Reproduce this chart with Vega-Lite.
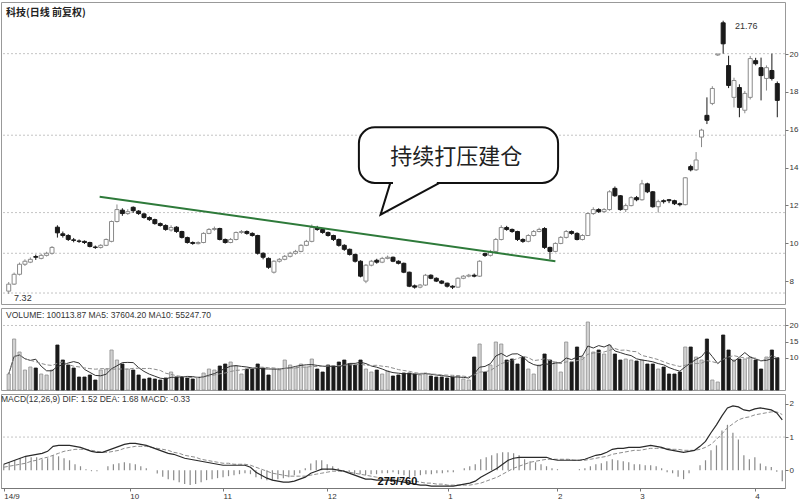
{
"$schema":"https://vega.github.io/schema/vega-lite/v6.json",
"padding":{"left":0,"top":1,"right":0,"bottom":0},
"background":"white",
"spacing":2,
"config":{"view":{"stroke":"#999","strokeWidth":1},"font":"Liberation Sans","axis":{"labelFont":"Liberation Sans","labelColor":"#333","tickColor":"#777","domainColor":"#777"}},
"datasets":{
"k":[
{"n":0,"o":7.47,"h":7.95,"l":7.32,"c":7.84,"v":49600,"dif":0.18,"dea":0.09,"m":0.18},
{"n":1,"o":7.84,"h":8.45,"l":7.80,"c":8.36,"v":158100,"dif":0.24,"dea":0.12,"m":0.24},
{"n":2,"o":8.36,"h":8.98,"l":8.30,"c":8.89,"v":117800,"dif":0.30,"dea":0.15,"m":0.30},
{"n":3,"o":8.89,"h":9.15,"l":8.80,"c":9.05,"v":62000,"dif":0.36,"dea":0.18,"m":0.36},
{"n":4,"o":9.00,"h":9.25,"l":8.95,"c":9.15,"v":71300,"dif":0.42,"dea":0.21,"m":0.42},
{"n":5,"o":9.30,"h":9.40,"l":9.12,"c":9.26,"v":68200,"dif":0.45,"dea":0.27,"m":0.39},
{"n":6,"o":9.20,"h":9.45,"l":9.15,"c":9.36,"v":49600,"dif":0.48,"dea":0.30,"m":0.39},
{"n":7,"o":9.36,"h":9.55,"l":9.30,"c":9.47,"v":46500,"dif":0.51,"dea":0.36,"m":0.33},
{"n":8,"o":9.47,"h":9.85,"l":9.40,"c":9.78,"v":62000,"dif":0.57,"dea":0.39,"m":0.36},
{"n":9,"o":10.85,"h":10.95,"l":10.30,"c":10.55,"v":139500,"dif":0.72,"dea":0.45,"m":0.45},
{"n":10,"o":10.50,"h":10.62,"l":10.30,"c":10.41,"v":93000,"dif":0.75,"dea":0.51,"m":0.42},
{"n":11,"o":10.41,"h":10.48,"l":10.12,"c":10.20,"v":77500,"dif":0.75,"dea":0.57,"m":0.36},
{"n":12,"o":10.18,"h":10.28,"l":10.05,"c":10.15,"v":68200,"dif":0.75,"dea":0.60,"m":0.30},
{"n":13,"o":10.12,"h":10.20,"l":10.02,"c":10.10,"v":40300,"dif":0.72,"dea":0.63,"m":0.18},
{"n":14,"o":10.10,"h":10.15,"l":9.96,"c":10.04,"v":40300,"dif":0.69,"dea":0.63,"m":0.12},
{"n":15,"o":10.04,"h":10.08,"l":9.78,"c":9.83,"v":46500,"dif":0.63,"dea":0.63,"m":0.03},
{"n":16,"o":9.80,"h":9.88,"l":9.70,"c":9.78,"v":31000,"dif":0.57,"dea":0.60,"m":-0.03},
{"n":17,"o":9.78,"h":9.95,"l":9.72,"c":9.89,"v":62000,"dif":0.54,"dea":0.57,"m":-0.03},
{"n":18,"o":9.89,"h":10.25,"l":9.85,"c":10.20,"v":65100,"dif":0.54,"dea":0.54,"m":0.00},
{"n":19,"o":10.10,"h":11.20,"l":10.05,"c":11.15,"v":124000,"dif":0.60,"dea":0.54,"m":0.12},
{"n":20,"o":11.15,"h":12.05,"l":11.10,"c":11.78,"v":93000,"dif":0.66,"dea":0.57,"m":0.18},
{"n":21,"o":11.75,"h":11.85,"l":11.45,"c":11.57,"v":80600,"dif":0.72,"dea":0.60,"m":0.21},
{"n":22,"o":11.57,"h":11.80,"l":11.50,"c":11.67,"v":65100,"dif":0.78,"dea":0.66,"m":0.24},
{"n":23,"o":11.90,"h":11.95,"l":11.60,"c":11.72,"v":62000,"dif":0.81,"dea":0.69,"m":0.21},
{"n":24,"o":11.70,"h":11.75,"l":11.50,"c":11.57,"v":46500,"dif":0.81,"dea":0.72,"m":0.18},
{"n":25,"o":11.55,"h":11.60,"l":11.30,"c":11.36,"v":34100,"dif":0.78,"dea":0.72,"m":0.12},
{"n":26,"o":11.36,"h":11.42,"l":11.18,"c":11.25,"v":37200,"dif":0.75,"dea":0.72,"m":0.06},
{"n":27,"o":11.25,"h":11.30,"l":10.98,"c":11.04,"v":34100,"dif":0.69,"dea":0.69,"m":0.00},
{"n":28,"o":11.04,"h":11.10,"l":10.88,"c":10.94,"v":31000,"dif":0.63,"dea":0.66,"m":-0.10},
{"n":29,"o":10.94,"h":11.00,"l":10.66,"c":10.73,"v":37200,"dif":0.57,"dea":0.63,"m":-0.20},
{"n":30,"o":10.70,"h":10.95,"l":10.62,"c":10.83,"v":55800,"dif":0.51,"dea":0.60,"m":-0.27},
{"n":31,"o":10.85,"h":10.90,"l":10.55,"c":10.62,"v":40300,"dif":0.48,"dea":0.54,"m":-0.30},
{"n":32,"o":10.62,"h":10.66,"l":10.25,"c":10.31,"v":40300,"dif":0.42,"dea":0.51,"m":-0.36},
{"n":33,"o":10.30,"h":10.35,"l":9.98,"c":10.04,"v":37200,"dif":0.36,"dea":0.45,"m":-0.42},
{"n":34,"o":10.04,"h":10.10,"l":9.92,"c":9.99,"v":34100,"dif":0.33,"dea":0.42,"m":-0.45},
{"n":35,"o":9.98,"h":10.10,"l":9.94,"c":10.04,"v":40300,"dif":0.30,"dea":0.39,"m":-0.42},
{"n":36,"o":10.04,"h":10.58,"l":10.00,"c":10.52,"v":52700,"dif":0.27,"dea":0.33,"m":-0.36},
{"n":37,"o":10.52,"h":10.80,"l":10.48,"c":10.73,"v":65100,"dif":0.24,"dea":0.30,"m":-0.30},
{"n":38,"o":10.73,"h":10.88,"l":10.66,"c":10.78,"v":62000,"dif":0.21,"dea":0.27,"m":-0.27},
{"n":39,"o":10.78,"h":10.82,"l":10.15,"c":10.20,"v":74400,"dif":0.18,"dea":0.24,"m":-0.24},
{"n":40,"o":10.20,"h":10.25,"l":9.98,"c":10.04,"v":80600,"dif":0.15,"dea":0.21,"m":-0.21},
{"n":41,"o":10.04,"h":10.28,"l":10.00,"c":10.20,"v":86800,"dif":0.15,"dea":0.21,"m":-0.18},
{"n":42,"o":10.20,"h":10.62,"l":10.15,"c":10.57,"v":74400,"dif":0.15,"dea":0.18,"m":-0.15},
{"n":43,"o":10.57,"h":10.70,"l":10.50,"c":10.62,"v":49600,"dif":0.15,"dea":0.18,"m":-0.12},
{"n":44,"o":10.62,"h":10.68,"l":10.45,"c":10.52,"v":65100,"dif":0.15,"dea":0.18,"m":-0.09},
{"n":45,"o":10.52,"h":10.58,"l":10.35,"c":10.41,"v":65100,"dif":0.09,"dea":0.15,"m":-0.12},
{"n":46,"o":10.41,"h":10.45,"l":9.40,"c":9.47,"v":80600,"dif":-0.06,"dea":0.09,"m":-0.21},
{"n":47,"o":9.47,"h":9.52,"l":9.15,"c":9.26,"v":68200,"dif":-0.15,"dea":0.03,"m":-0.27},
{"n":48,"o":9.20,"h":9.25,"l":8.65,"c":8.73,"v":46500,"dif":-0.24,"dea":-0.03,"m":-0.30},
{"n":49,"o":8.47,"h":9.10,"l":8.40,"c":9.05,"v":65100,"dif":-0.30,"dea":-0.09,"m":-0.30},
{"n":50,"o":9.05,"h":9.22,"l":8.98,"c":9.15,"v":62000,"dif":-0.33,"dea":-0.12,"m":-0.27},
{"n":51,"o":9.15,"h":9.38,"l":9.10,"c":9.31,"v":93000,"dif":-0.36,"dea":-0.15,"m":-0.24},
{"n":52,"o":9.31,"h":9.55,"l":9.25,"c":9.47,"v":77500,"dif":-0.36,"dea":-0.18,"m":-0.21},
{"n":53,"o":9.47,"h":9.65,"l":9.40,"c":9.57,"v":68200,"dif":-0.33,"dea":-0.18,"m":-0.15},
{"n":54,"o":9.57,"h":9.95,"l":9.52,"c":9.89,"v":80600,"dif":-0.27,"dea":-0.18,"m":-0.09},
{"n":55,"o":9.89,"h":10.18,"l":9.85,"c":10.10,"v":71300,"dif":-0.21,"dea":-0.18,"m":0.06},
{"n":56,"o":10.10,"h":10.99,"l":10.05,"c":10.83,"v":96100,"dif":-0.09,"dea":-0.15,"m":0.20},
{"n":57,"o":10.83,"h":10.92,"l":10.66,"c":10.73,"v":65100,"dif":-0.03,"dea":-0.12,"m":0.30},
{"n":58,"o":10.73,"h":10.78,"l":10.50,"c":10.57,"v":55800,"dif":0.03,"dea":-0.09,"m":0.30},
{"n":59,"o":10.57,"h":10.62,"l":10.35,"c":10.41,"v":77500,"dif":0.03,"dea":-0.06,"m":0.18},
{"n":60,"o":10.41,"h":10.45,"l":10.12,"c":10.20,"v":74400,"dif":0.03,"dea":-0.03,"m":0.12},
{"n":61,"o":10.20,"h":10.25,"l":9.82,"c":9.89,"v":86800,"dif":0.00,"dea":-0.03,"m":0.06},
{"n":62,"o":9.89,"h":9.95,"l":9.60,"c":9.68,"v":93000,"dif":-0.03,"dea":-0.03,"m":-0.03},
{"n":63,"o":9.68,"h":9.72,"l":9.35,"c":9.41,"v":80600,"dif":-0.09,"dea":-0.06,"m":-0.06},
{"n":64,"o":9.41,"h":9.45,"l":8.98,"c":9.05,"v":77500,"dif":-0.15,"dea":-0.09,"m":-0.12},
{"n":65,"o":9.05,"h":9.10,"l":8.20,"c":8.26,"v":93000,"dif":-0.21,"dea":-0.12,"m":-0.12},
{"n":66,"o":8.00,"h":8.90,"l":7.89,"c":8.84,"v":65100,"dif":-0.27,"dea":-0.15,"m":-0.15},
{"n":67,"o":8.84,"h":9.12,"l":8.78,"c":9.05,"v":55800,"dif":-0.27,"dea":-0.18,"m":-0.12},
{"n":68,"o":9.10,"h":9.18,"l":8.92,"c":9.00,"v":62000,"dif":-0.30,"dea":-0.21,"m":-0.12},
{"n":69,"o":9.00,"h":9.28,"l":8.95,"c":9.20,"v":49600,"dif":-0.30,"dea":-0.24,"m":-0.09},
{"n":70,"o":9.20,"h":9.35,"l":9.15,"c":9.26,"v":58900,"dif":-0.30,"dea":-0.24,"m":-0.09},
{"n":71,"o":9.26,"h":9.30,"l":9.00,"c":9.05,"v":43400,"dif":-0.30,"dea":-0.27,"m":-0.06},
{"n":72,"o":9.05,"h":9.10,"l":8.88,"c":8.94,"v":46500,"dif":-0.33,"dea":-0.27,"m":-0.12},
{"n":73,"o":8.94,"h":8.98,"l":8.42,"c":8.47,"v":52700,"dif":-0.36,"dea":-0.30,"m":-0.15},
{"n":74,"o":8.47,"h":8.50,"l":7.68,"c":7.73,"v":52700,"dif":-0.39,"dea":-0.33,"m":-0.21},
{"n":75,"o":7.75,"h":7.82,"l":7.60,"c":7.68,"v":49600,"dif":-0.42,"dea":-0.33,"m":-0.18},
{"n":76,"o":7.68,"h":7.85,"l":7.62,"c":7.79,"v":46500,"dif":-0.45,"dea":-0.36,"m":-0.15},
{"n":77,"o":7.79,"h":8.38,"l":7.75,"c":8.31,"v":52700,"dif":-0.45,"dea":-0.39,"m":-0.12},
{"n":78,"o":8.31,"h":8.36,"l":8.10,"c":8.15,"v":43400,"dif":-0.48,"dea":-0.39,"m":-0.12},
{"n":79,"o":8.15,"h":8.20,"l":7.95,"c":8.00,"v":40300,"dif":-0.48,"dea":-0.42,"m":-0.09},
{"n":80,"o":8.00,"h":8.05,"l":7.84,"c":7.89,"v":40300,"dif":-0.48,"dea":-0.42,"m":-0.09},
{"n":81,"o":7.89,"h":7.92,"l":7.66,"c":7.73,"v":37200,"dif":-0.48,"dea":-0.45,"m":-0.06},
{"n":82,"o":7.73,"h":7.78,"l":7.58,"c":7.68,"v":40300,"dif":-0.48,"dea":-0.45,"m":-0.06},
{"n":83,"o":7.68,"h":8.20,"l":7.65,"c":8.15,"v":43400,"dif":-0.45,"dea":-0.45,"m":0.00},
{"n":84,"o":8.15,"h":8.32,"l":8.10,"c":8.26,"v":34100,"dif":-0.42,"dea":-0.45,"m":0.06},
{"n":85,"o":8.26,"h":8.38,"l":8.20,"c":8.31,"v":31000,"dif":-0.39,"dea":-0.45,"m":0.12},
{"n":86,"o":8.31,"h":8.40,"l":8.20,"c":8.26,"v":102300,"dif":-0.33,"dea":-0.42,"m":0.18},
{"n":87,"o":8.26,"h":9.10,"l":8.22,"c":9.05,"v":142600,"dif":-0.21,"dea":-0.39,"m":0.33},
{"n":88,"o":9.45,"h":9.50,"l":9.28,"c":9.36,"v":55800,"dif":-0.12,"dea":-0.33,"m":0.39},
{"n":89,"o":9.36,"h":9.65,"l":9.30,"c":9.57,"v":77500,"dif":-0.03,"dea":-0.27,"m":0.45},
{"n":90,"o":9.57,"h":10.28,"l":9.52,"c":10.20,"v":148800,"dif":0.06,"dea":-0.21,"m":0.51},
{"n":91,"o":10.20,"h":10.95,"l":10.15,"c":10.83,"v":142600,"dif":0.18,"dea":-0.12,"m":0.54},
{"n":92,"o":10.83,"h":10.92,"l":10.66,"c":10.73,"v":93000,"dif":0.30,"dea":-0.03,"m":0.54},
{"n":93,"o":10.73,"h":10.78,"l":10.55,"c":10.62,"v":96100,"dif":0.36,"dea":0.06,"m":0.51},
{"n":94,"o":10.62,"h":10.66,"l":10.12,"c":10.20,"v":80600,"dif":0.39,"dea":0.12,"m":0.45},
{"n":95,"o":10.20,"h":10.26,"l":10.02,"c":10.10,"v":102300,"dif":0.39,"dea":0.18,"m":0.33},
{"n":96,"o":10.10,"h":10.48,"l":10.05,"c":10.41,"v":65100,"dif":0.39,"dea":0.24,"m":0.27},
{"n":97,"o":10.41,"h":10.70,"l":10.36,"c":10.62,"v":49600,"dif":0.39,"dea":0.27,"m":0.24},
{"n":98,"o":10.62,"h":10.82,"l":10.58,"c":10.73,"v":77500,"dif":0.39,"dea":0.30,"m":0.18},
{"n":99,"o":10.78,"h":10.85,"l":9.70,"c":9.78,"v":111600,"dif":0.39,"dea":0.33,"m":0.12},
{"n":100,"o":9.78,"h":9.82,"l":9.15,"c":9.57,"v":93000,"dif":0.33,"dea":0.33,"m":0.06},
{"n":101,"o":9.57,"h":10.05,"l":9.52,"c":9.99,"v":86800,"dif":0.30,"dea":0.33,"m":0.03},
{"n":102,"o":9.99,"h":10.38,"l":9.95,"c":10.31,"v":55800,"dif":0.30,"dea":0.33,"m":0.00},
{"n":103,"o":10.31,"h":10.70,"l":10.25,"c":10.62,"v":148800,"dif":0.30,"dea":0.33,"m":0.00},
{"n":104,"o":10.62,"h":10.68,"l":10.45,"c":10.52,"v":86800,"dif":0.30,"dea":0.30,"m":0.00},
{"n":105,"o":10.52,"h":10.58,"l":10.15,"c":10.20,"v":133300,"dif":0.30,"dea":0.30,"m":0.03},
{"n":106,"o":10.20,"h":10.48,"l":10.15,"c":10.41,"v":102300,"dif":0.33,"dea":0.30,"m":0.06},
{"n":107,"o":10.41,"h":11.62,"l":10.38,"c":11.57,"v":210800,"dif":0.39,"dea":0.33,"m":0.12},
{"n":108,"o":11.57,"h":11.90,"l":11.50,"c":11.78,"v":117800,"dif":0.45,"dea":0.36,"m":0.18},
{"n":109,"o":11.78,"h":11.85,"l":11.60,"c":11.67,"v":124000,"dif":0.48,"dea":0.39,"m":0.21},
{"n":110,"o":11.67,"h":11.86,"l":11.60,"c":11.78,"v":111600,"dif":0.54,"dea":0.42,"m":0.27},
{"n":111,"o":11.78,"h":12.80,"l":11.72,"c":12.72,"v":139500,"dif":0.63,"dea":0.48,"m":0.33},
{"n":112,"o":12.90,"h":13.00,"l":12.45,"c":12.51,"v":111600,"dif":0.66,"dea":0.51,"m":0.30},
{"n":113,"o":12.51,"h":12.55,"l":11.72,"c":11.78,"v":93000,"dif":0.66,"dea":0.54,"m":0.27},
{"n":114,"o":11.78,"h":12.10,"l":11.65,"c":11.99,"v":96100,"dif":0.69,"dea":0.57,"m":0.24},
{"n":115,"o":11.99,"h":12.48,"l":11.95,"c":12.41,"v":93000,"dif":0.69,"dea":0.60,"m":0.18},
{"n":116,"o":12.41,"h":12.50,"l":12.22,"c":12.30,"v":89900,"dif":0.69,"dea":0.60,"m":0.18},
{"n":117,"o":12.30,"h":13.35,"l":12.25,"c":13.14,"v":93000,"dif":0.72,"dea":0.63,"m":0.15},
{"n":118,"o":13.14,"h":13.20,"l":12.65,"c":12.72,"v":80600,"dif":0.75,"dea":0.66,"m":0.15},
{"n":119,"o":12.72,"h":12.76,"l":11.88,"c":11.93,"v":80600,"dif":0.72,"dea":0.66,"m":0.12},
{"n":120,"o":11.93,"h":12.30,"l":11.62,"c":12.20,"v":65100,"dif":0.69,"dea":0.66,"m":0.06},
{"n":121,"o":12.25,"h":12.32,"l":12.10,"c":12.20,"v":71300,"dif":0.63,"dea":0.66,"m":-0.06},
{"n":122,"o":12.30,"h":12.34,"l":12.12,"c":12.25,"v":49600,"dif":0.60,"dea":0.63,"m":-0.09},
{"n":123,"o":12.25,"h":12.30,"l":12.02,"c":12.09,"v":49600,"dif":0.57,"dea":0.63,"m":-0.20},
{"n":124,"o":12.09,"h":12.15,"l":11.95,"c":12.04,"v":55800,"dif":0.54,"dea":0.60,"m":-0.27},
{"n":125,"o":12.04,"h":13.50,"l":12.00,"c":13.46,"v":133300,"dif":0.57,"dea":0.60,"m":-0.09},
{"n":126,"o":14.05,"h":14.15,"l":13.80,"c":13.88,"v":133300,"dif":0.60,"dea":0.60,"m":0.00},
{"n":127,"o":13.88,"h":14.82,"l":13.82,"c":14.40,"v":102300,"dif":0.72,"dea":0.63,"m":0.15},
{"n":128,"o":15.61,"h":16.05,"l":15.08,"c":15.98,"v":93000,"dif":0.87,"dea":0.69,"m":0.30},
{"n":129,"o":16.76,"h":17.71,"l":16.30,"c":16.50,"v":158100,"dif":1.13,"dea":0.78,"m":0.60},
{"n":130,"o":17.39,"h":18.30,"l":17.30,"c":18.18,"v":31000,"dif":1.37,"dea":0.93,"m":0.75},
{"n":131,"o":19.95,"h":20.00,"l":19.90,"c":20.00,"v":24800,"dif":1.64,"dea":1.10,"m":1.20},
{"n":132,"o":21.65,"h":21.76,"l":20.02,"c":20.54,"v":170500,"dif":1.88,"dea":1.28,"m":1.37},
{"n":133,"o":19.39,"h":19.91,"l":18.20,"c":18.34,"v":124000,"dif":1.94,"dea":1.40,"m":1.13},
{"n":134,"o":17.71,"h":18.75,"l":17.18,"c":18.60,"v":93000,"dif":1.91,"dea":1.52,"m":0.93},
{"n":135,"o":18.23,"h":18.40,"l":16.66,"c":17.18,"v":96100,"dif":1.82,"dea":1.58,"m":0.45},
{"n":136,"o":17.03,"h":18.05,"l":16.87,"c":17.92,"v":96100,"dif":1.79,"dea":1.61,"m":0.33},
{"n":137,"o":17.71,"h":19.90,"l":17.60,"c":19.76,"v":102300,"dif":1.85,"dea":1.67,"m":0.39},
{"n":138,"o":19.65,"h":19.80,"l":19.40,"c":19.49,"v":93000,"dif":1.88,"dea":1.70,"m":0.20},
{"n":139,"o":19.28,"h":19.81,"l":17.55,"c":18.86,"v":65100,"dif":1.85,"dea":1.73,"m":0.12},
{"n":140,"o":18.71,"h":19.40,"l":18.07,"c":19.28,"v":102300,"dif":1.82,"dea":1.76,"m":0.10},
{"n":141,"o":19.13,"h":20.02,"l":18.60,"c":18.71,"v":124000,"dif":1.73,"dea":1.76,"m":-0.05},
{"n":142,"o":18.44,"h":18.55,"l":16.66,"c":17.55,"v":100113.87,"dif":1.52,"dea":1.68,"m":-0.33}
],
"trend":[{"n":16.8,"p":12.46},{"n":101,"p":9.05}],
"bubble":[{"n1":64.7,"n2":101.5,"p1":16.13,"p2":13.19}],
"mask":[{"n1":71.0,"n2":79.1,"p":13.19}],
"tail":[{"n":70.5,"p":13.19,"k":1},{"n":68.7,"p":11.51,"k":2},{"n":79.6,"p":13.19,"k":3}]
},
"vconcat":[
{
"width":784,"height":302,
"layer":[
{"data":{"values":[{"p":20.02},{"p":15.71},{"p":11.62},{"p":9.47},{"p":7.37}]},
 "mark":{"type":"rule","color":"#c4c4c4","strokeDash":[2,2],"strokeWidth":1},
 "encoding":{"y":{"field":"p","type":"quantitative","title":null,"scale":{"domain":[6.79,22.75],"nice":false,"zero":false},
   "axis":{"orient":"right","values":[8,9,10,11,12,13,14,15,16,17,18,19,20,21],"format":"d","labelFontSize":8,"tickSize":3,"labelPadding":1,"grid":false,"domain":false}}}},
{"data":{"name":"k"},
 "mark":{"type":"rule","strokeWidth":1},
 "encoding":{"x":{"field":"n","type":"quantitative","scale":{"domain":[-0.5,142.5],"nice":false,"zero":false},"axis":null},
   "y":{"field":"l","type":"quantitative","title":null},"y2":{"field":"h"},
   "color":{"condition":{"test":"datum.c >= datum.o","value":"#8a8a8a"},"value":"#1a1a1a"}}},
{"data":{"name":"k"},
 "mark":{"type":"bar","size":4,"strokeWidth":1},
 "encoding":{"x":{"field":"n","type":"quantitative"},
   "y":{"field":"o","type":"quantitative","title":null},"y2":{"field":"c"},
   "fill":{"condition":{"test":"datum.c >= datum.o","value":"#ffffff"},"value":"#1a1a1a"},
   "stroke":{"condition":{"test":"datum.c >= datum.o","value":"#8a8a8a"},"value":"#1a1a1a"}}},
{"data":{"name":"trend"},
 "mark":{"type":"line","color":"#2e7a3a","strokeWidth":2},
 "encoding":{"x":{"field":"n","type":"quantitative"},"y":{"field":"p","type":"quantitative","title":null}}},
{"data":{"name":"bubble"},
 "mark":{"type":"rect","fill":"#ffffff","stroke":"#111111","strokeWidth":2,"cornerRadius":16},
 "encoding":{"x":{"field":"n1","type":"quantitative"},"x2":{"field":"n2"},"y":{"field":"p1","type":"quantitative","title":null},"y2":{"field":"p2"}}},
{"data":{"name":"mask"},
 "mark":{"type":"rule","color":"#ffffff","strokeWidth":4},
 "encoding":{"x":{"field":"n1","type":"quantitative"},"x2":{"field":"n2"},"y":{"field":"p","type":"quantitative","title":null}}},
{"data":{"name":"tail"},
 "mark":{"type":"line","color":"#111111","strokeWidth":2},
 "encoding":{"x":{"field":"n","type":"quantitative"},"y":{"field":"p","type":"quantitative","title":null},"order":{"field":"k"}}},
{"data":{"values":[{"t":"持续打压建仓","n":82.7,"p":14.56}]},
 "mark":{"type":"text","font":"Noto Sans CJK SC","fontSize":22,"color":"#222222","align":"center","baseline":"middle"},
 "encoding":{"x":{"field":"n","type":"quantitative"},"y":{"field":"p","type":"quantitative","title":null},"text":{"field":"t"}}},
{"data":{"values":[{"t":"科技(日线 前复权)","n":-0.5,"p":22.17}]},
 "mark":{"type":"text","font":"Noto Sans CJK SC","fontSize":10,"fontWeight":"bold","color":"#222222","align":"left","baseline":"middle"},
 "encoding":{"x":{"field":"n","type":"quantitative"},"y":{"field":"p","type":"quantitative","title":null},"text":{"field":"t"}}},
{"data":{"values":[{"t":"21.76","n":134.2,"p":21.5},{"t":"7.32","n":1.0,"p":7.12}]},
 "mark":{"type":"text","fontSize":9,"color":"#333333","align":"left","baseline":"middle"},
 "encoding":{"x":{"field":"n","type":"quantitative"},"y":{"field":"p","type":"quantitative","title":null},"text":{"field":"t"}}}
]
},
{
"width":784,"height":82,
"layer":[
{"data":{"values":[{"g":200000}]},
 "mark":{"type":"rule","color":"#c4c4c4","strokeDash":[2,2],"strokeWidth":1},
 "encoding":{"y":{"field":"g","type":"quantitative","title":null,"scale":{"domain":[0,254200],"nice":false,"zero":false},
   "axis":{"orient":"right","values":[100000,150000,200000],"labelExpr":"format(datum.value/10000,'d')","labelFontSize":8,"tickSize":3,"labelPadding":1,"grid":false,"domain":false}}}},
{"data":{"name":"k"},
 "mark":{"type":"bar","size":3.2,"strokeWidth":0.8},
 "encoding":{"x":{"field":"n","type":"quantitative","scale":{"domain":[-0.5,142.5],"nice":false,"zero":false},"axis":null},
   "y":{"field":"v","type":"quantitative","title":null},
   "fill":{"condition":{"test":"datum.c >= datum.o","value":"#d2d2d2"},"value":"#1a1a1a"},
   "stroke":{"condition":{"test":"datum.c >= datum.o","value":"#8f8f8f"},"value":"#1a1a1a"}}},
{"data":{"name":"k"},
 "transform":[{"window":[{"op":"mean","field":"v","as":"ma5"}],"frame":[-4,0],"sort":[{"field":"n"}]}],
 "mark":{"type":"line","color":"#333333","strokeWidth":1},
 "encoding":{"x":{"field":"n","type":"quantitative"},"y":{"field":"ma5","type":"quantitative","title":null}}},
{"data":{"name":"k"},
 "transform":[{"window":[{"op":"mean","field":"v","as":"ma10"}],"frame":[-9,0],"sort":[{"field":"n"}]}],
 "mark":{"type":"line","color":"#8c8c8c","strokeWidth":1,"strokeDash":[4,2]},
 "encoding":{"x":{"field":"n","type":"quantitative"},"y":{"field":"ma10","type":"quantitative","title":null}}},
{"data":{"values":[{"t":"VOLUME: 100113.87  MA5: 37604.20  MA10: 55247.70","n":-0.5,"g":232500}]},
 "mark":{"type":"text","fontSize":8.5,"color":"#333333","align":"left","baseline":"middle"},
 "encoding":{"x":{"field":"n","type":"quantitative"},"y":{"field":"g","type":"quantitative","title":null},"text":{"field":"t"}}}
]
},
{
"width":784,"height":94,
"layer":[
{"data":{"values":[{"g":1.0}]},
 "mark":{"type":"rule","color":"#c4c4c4","strokeDash":[2,2],"strokeWidth":1},
 "encoding":{"y":{"field":"g","type":"quantitative","title":null,"scale":{"domain":[-0.537,2.3],"nice":false,"zero":false},
   "axis":{"orient":"right","values":[0,1,2],"format":"d","labelFontSize":8,"tickSize":3,"labelPadding":1,"grid":false,"domain":false}}}},
{"data":{"name":"k"},
 "mark":{"type":"rule","color":"#8a8a8a","strokeWidth":1.2},
 "encoding":{"x":{"field":"n","type":"quantitative","scale":{"domain":[-0.5,142.5],"nice":false,"zero":false},
   "axis":{"orient":"bottom","values":[0,23,40,59,81,101,116,137],"labelExpr":"datum.value==0?'14/9':datum.value==23?'10':datum.value==40?'11':datum.value==59?'12':datum.value==81?'1':datum.value==101?'2':datum.value==116?'3':'4'","labelFontSize":8,"tickSize":3,"labelPadding":1,"labelAlign":"left","labelDx":-2,"grid":false,"domain":true,"title":null,"labelOverlap":false}},
   "y":{"field":"m","type":"quantitative","title":null},"y2":{"datum":0}}},
{"data":{"name":"k"},
 "mark":{"type":"line","color":"#8c8c8c","strokeWidth":1,"strokeDash":[4,2]},
 "encoding":{"x":{"field":"n","type":"quantitative"},"y":{"field":"dea","type":"quantitative","title":null}}},
{"data":{"name":"k"},
 "mark":{"type":"line","color":"#2a2a2a","strokeWidth":1.2},
 "encoding":{"x":{"field":"n","type":"quantitative"},"y":{"field":"dif","type":"quantitative","title":null}}},
{"data":{"values":[{"t":"MACD(12,26,9) DIF: 1.52  DEA: 1.68  MACD: -0.33","n":-0.5,"g":2.15}]},
 "mark":{"type":"text","fontSize":8.5,"color":"#333333","align":"left","baseline":"middle"},
 "encoding":{"x":{"field":"n","type":"quantitative"},"y":{"field":"g","type":"quantitative","title":null},"text":{"field":"t"}}},
{"data":{"values":[{"t":"275/760","n":71.8,"g":-0.36}]},
 "mark":{"type":"text","fontSize":11,"fontWeight":"bold","color":"#111111","align":"center","baseline":"middle"},
 "encoding":{"x":{"field":"n","type":"quantitative"},"y":{"field":"g","type":"quantitative","title":null},"text":{"field":"t"}}}
]
}
]
}
